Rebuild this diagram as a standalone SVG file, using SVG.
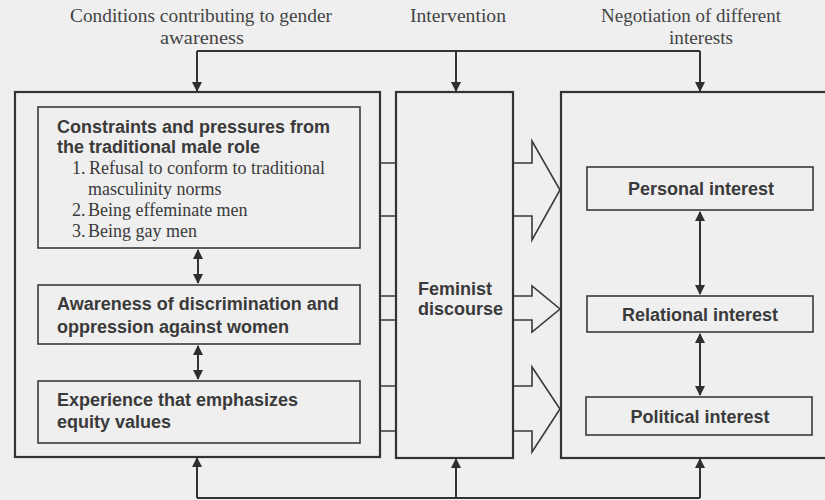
<svg xmlns="http://www.w3.org/2000/svg" width="825" height="500" viewBox="0 0 825 500">
<defs>
<marker id="ah" viewBox="0 0 10 10" refX="9" refY="5" markerWidth="10" markerHeight="10" markerUnits="userSpaceOnUse" orient="auto-start-reverse">
<path d="M0,0 L10,5 L0,10 z" fill="#2e2e2e"/>
</marker>
<style>
.bg{fill:#efeff0}
.outer{fill:none;stroke:#333;stroke-width:2.2}
.inner{fill:none;stroke:#3a3a3a;stroke-width:1.6}
.line{fill:none;stroke:#333;stroke-width:2}
.blk{fill:none;stroke:#3a3a3a;stroke-width:1.6;stroke-linejoin:miter}
.hd{font-family:"Liberation Serif",serif;font-size:18px;fill:#444}
.b{font-family:"Liberation Sans",Arial,sans-serif;font-weight:bold;font-size:18px;fill:#3a3a3a}
.s{font-family:"Liberation Serif",serif;font-size:18px;fill:#3a3a3a}
</style>
</defs>
<rect class="bg" x="0" y="0" width="825" height="500"/>

<g id="labels">
<text class="hd" x="70" y="22" textLength="262" lengthAdjust="spacingAndGlyphs">Conditions contributing to gender</text>
<text class="hd" x="160" y="44" textLength="84" lengthAdjust="spacingAndGlyphs">awareness</text>
<text class="hd" x="410" y="22" textLength="96" lengthAdjust="spacingAndGlyphs">Intervention</text>
<text class="hd" x="601" y="22" textLength="180" lengthAdjust="spacingAndGlyphs">Negotiation of different</text>
<text class="hd" x="669" y="44" textLength="64" lengthAdjust="spacingAndGlyphs">interests</text>
</g>

<g id="conditions">
<rect class="outer" x="15" y="92" width="365" height="365"/>
</g>
<g id="constraints">
<rect class="inner" x="38" y="107" width="322" height="141"/>
<text class="b" x="57" y="133">Constraints and pressures from</text>
<text class="b" x="57" y="153">the traditional male role</text>
<text class="s" x="72" y="174">1.<tspan x="89">Refusal to conform to traditional</tspan></text>
<text class="s" x="88" y="195">masculinity norms</text>
<text class="s" x="72" y="216">2.<tspan x="88">Being effeminate men</tspan></text>
<text class="s" x="72" y="237">3.<tspan x="88">Being gay men</tspan></text>
</g>
<g id="awareness">
<rect class="inner" x="38" y="285" width="322" height="59"/>
<text class="b" x="57" y="310">Awareness of discrimination and</text>
<text class="b" x="57" y="333">oppression against women</text>
</g>
<g id="experience">
<rect class="inner" x="38" y="381" width="322" height="62"/>
<text class="b" x="57" y="406">Experience that emphasizes</text>
<text class="b" x="57" y="428">equity values</text>
</g>

<g id="feminist">
<rect class="outer" x="396" y="92" width="117" height="366"/>
<text class="b" x="418" y="295">Feminist</text>
<text class="b" x="418" y="315">discourse</text>
</g>

<g id="negotiation">
<rect class="outer" x="561" y="92" width="290" height="366"/>
</g>
<g id="personal">
<rect class="inner" x="587" y="167" width="226" height="43"/>
<text class="b" x="701" y="195" text-anchor="middle">Personal interest</text>
</g>
<g id="relational">
<rect class="inner" x="587" y="296" width="226" height="36"/>
<text class="b" x="700" y="321" text-anchor="middle">Relational interest</text>
</g>
<g id="political">
<rect class="inner" x="586" y="397" width="226" height="38"/>
<text class="b" x="700" y="423" text-anchor="middle">Political interest</text>
</g>

<g id="connectors">
<path class="line" d="M197,51 H700"/>
<path class="line" d="M197,51 V91" marker-end="url(#ah)"/>
<path class="line" d="M456,51 V91" marker-end="url(#ah)"/>
<path class="line" d="M700,51 V91" marker-end="url(#ah)"/>
<path class="line" d="M197,498 H700"/>
<path class="line" d="M197,498 V458" marker-end="url(#ah)"/>
<path class="line" d="M456,498 V459" marker-end="url(#ah)"/>
<path class="line" d="M700,498 V459" marker-end="url(#ah)"/>
<path class="line" d="M198,250 V283" marker-start="url(#ah)" marker-end="url(#ah)"/>
<path class="line" d="M198,346 V379" marker-start="url(#ah)" marker-end="url(#ah)"/>
<path class="line" d="M700,212 V294" marker-start="url(#ah)" marker-end="url(#ah)"/>
<path class="line" d="M700,334 V395" marker-start="url(#ah)" marker-end="url(#ah)"/>
<path class="inner" d="M380,163 H396 M380,216 H396 M380,296 H396 M380,320 H396 M380,386 H396 M380,431 H396"/>
<path class="blk" d="M513,163 H532 V141 L560,190 L532,240 V216 H513"/>
<path class="blk" d="M513,296 H532 V286 L560,309 L532,332 V320 H513"/>
<path class="blk" d="M513,386 H532 V367 L560,409 L532,452 V431 H513"/>
</g>
</svg>
